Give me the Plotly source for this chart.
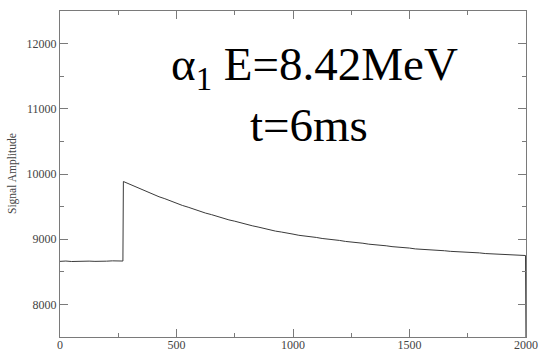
import plotly.graph_objects as go

# Signal trace
sample = [0, 25, 50, 75, 100, 125, 150, 175, 200, 225, 250, 270,
          272, 300, 325, 350, 375, 400, 425, 450, 475, 500,
          525, 550, 575, 600, 625, 650, 675, 700, 725, 750,
          775, 800, 825, 850, 875, 900, 925, 950, 975, 1000,
          1025, 1050, 1075, 1100, 1125, 1150, 1175, 1200, 1225, 1250,
          1275, 1300, 1325, 1350, 1375, 1400, 1425, 1450, 1475, 1500,
          1525, 1550, 1575, 1600, 1625, 1650, 1675, 1700, 1725, 1750,
          1775, 1800, 1825, 1850, 1875, 1900, 1925, 1950, 1975, 1998, 2000]
amplitude = [8660, 8665, 8658, 8662, 8670, 8664, 8660, 8667, 8663, 8668, 8661, 8665,
             9885, 9842, 9798, 9764, 9723, 9690, 9651, 9621, 9583, 9554,
             9518, 9491, 9457, 9432, 9400, 9377, 9347, 9325, 9296, 9276,
             9249, 9231, 9206, 9187, 9163, 9147, 9124, 9110, 9089, 9078,
             9060, 9051, 9035, 9027, 9011, 9003, 8988, 8981, 8966, 8959,
             8944, 8938, 8924, 8918, 8904, 8899, 8886, 8881, 8868, 8864,
             8851, 8847, 8838, 8835, 8826, 8823, 8814, 8811, 8803, 8801,
             8792, 8790, 8780, 8777, 8770, 8767, 8759, 8758, 8752, 8750, 7300]

x_ticks = [0, 500, 1000, 1500, 2000]
y_ticks = [8000, 9000, 10000, 11000, 12000]

serif = "Liberation Serif"
axis_col = "#7a7a7a"

fig = go.Figure()
fig.add_trace(go.Scatter(x=sample, y=amplitude, mode="lines",
                         line=dict(color="#3a3a3a", width=1), showlegend=False))

common = dict(showgrid=False, zeroline=False, showline=True, linecolor=axis_col,
              linewidth=1, mirror="ticks", ticks="inside", ticklen=8, tickwidth=1,
              tickcolor=axis_col, tickfont=dict(family=serif, size=12, color="#444"),
              automargin=False)

fig.update_xaxes(range=[0, 2000], tickvals=x_ticks, ticktext=[str(v) for v in x_ticks],
                 minor=dict(dtick=250, ticks="inside", ticklen=4, tickcolor=axis_col),
                 ticklabelstandoff=-3, **common)
fig.update_yaxes(range=[7500, 12500], tickvals=y_ticks, ticktext=[str(v) for v in y_ticks],
                 minor=dict(dtick=500, ticks="inside", ticklen=4, tickcolor=axis_col),
                 **common)

big = dict(family=serif, size=47, color="black")
fig.add_annotation(text="α<sub>1</sub> E=8.42MeV", xref="paper", yref="paper",
                   x=(314 - 60) / 466, y=(337 - 67) / 326, xanchor="center", yanchor="middle",
                   showarrow=False, font=big)
fig.add_annotation(text="t=6ms", xref="paper", yref="paper",
                   x=(309 - 60) / 466, y=(337 - 125) / 326, xanchor="center", yanchor="middle",
                   showarrow=False, font=big)
fig.add_annotation(text="Signal Amplitude", xref="paper", yref="paper",
                   x=(12 - 60) / 466, y=0.5, xanchor="center", yanchor="middle",
                   textangle=-90, showarrow=False,
                   font=dict(family=serif, size=11.5, color="#444"))

fig.update_layout(width=539, height=352, margin=dict(l=60, r=13, t=11, b=15),
                  paper_bgcolor="white", plot_bgcolor="white")

fig.write_html("out.html")
